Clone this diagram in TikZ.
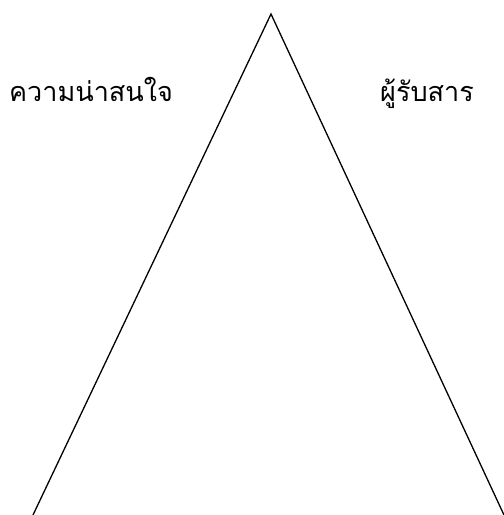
\documentclass[tikz,border=0pt]{standalone}
\usepackage{fontspec}
\newfontfamily\thaifont[Script=Thai]{Loma}
\usetikzlibrary{positioning}

\begin{document}
\begin{tikzpicture}[
    x=1pt, y=-1pt,
    every node/.style={font=\thaifont\fontsize{27}{32}\selectfont, anchor=base},
]

% =========================================================
% Bounding box (reference size)
% =========================================================
\useasboundingbox (0,0) rectangle (504,515);

% Corners of the triangle
\coordinate (apex) at (271,14);
\coordinate (baseL) at (33,515);
\coordinate (baseR) at (504,515);

% Two sides
\draw[line width=1.3pt] (baseL) -- (apex) -- (baseR);

% Labels (same baseline)
\node (interest) at (91,101) {ความน่าสนใจ};
\node (receiver) at (427,101) {ผู้รับสาร};

\end{tikzpicture}
\end{document}
